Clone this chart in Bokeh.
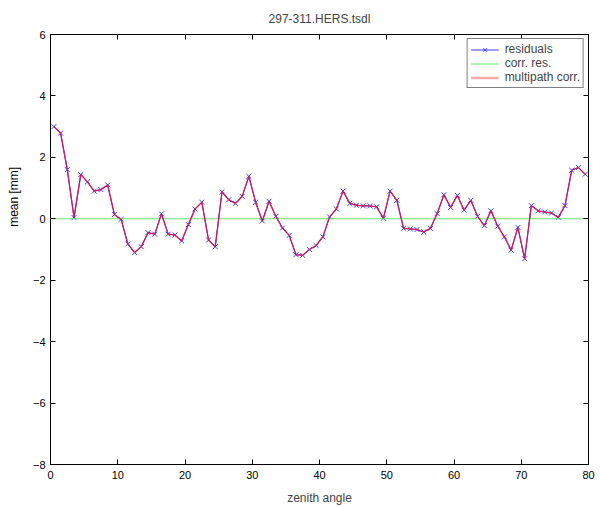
from bokeh.plotting import figure
from bokeh.models import LinearAxis, Range1d, FixedTicker, Legend, LegendItem, Title
from bokeh.embed import file_html
from bokeh.resources import INLINE

# ---- data ----
zenith_angle = [0.5, 1.5, 2.5, 3.5, 4.5, 5.5, 6.5, 7.5, 8.5, 9.5,
                10.5, 11.5, 12.5, 13.5, 14.5, 15.5, 16.5, 17.5, 18.5, 19.5,
                20.5, 21.5, 22.5, 23.5, 24.5, 25.5, 26.5, 27.5, 28.5, 29.5,
                30.5, 31.5, 32.5, 33.5, 34.5, 35.5, 36.5, 37.5, 38.5, 39.5,
                40.5, 41.5, 42.5, 43.5, 44.5, 45.5, 46.5, 47.5, 48.5, 49.5,
                50.5, 51.5, 52.5, 53.5, 54.5, 55.5, 56.5, 57.5, 58.5, 59.5,
                60.5, 61.5, 62.5, 63.5, 64.5, 65.5, 66.5, 67.5, 68.5, 69.5,
                70.5, 71.5, 72.5, 73.5, 74.5, 75.5, 76.5, 77.5, 78.5, 79.5]

residuals = [3.00, 2.79, 1.60, 0.04, 1.44, 1.20, 0.90, 0.95, 1.10, 0.14,
             -0.02, -0.82, -1.10, -0.91, -0.45, -0.50, 0.16, -0.50, -0.53, -0.72,
             -0.19, 0.32, 0.54, -0.69, -0.91, 0.88, 0.62, 0.50, 0.73, 1.38,
             0.54, -0.07, 0.57, 0.08, -0.30, -0.54, -1.17, -1.19, -1.00, -0.87,
             -0.59, 0.06, 0.32, 0.90, 0.50, 0.44, 0.42, 0.42, 0.39, 0.02,
             0.90, 0.60, -0.31, -0.33, -0.35, -0.43, -0.31, 0.17, 0.78, 0.37,
             0.76, 0.28, 0.60, 0.08, -0.22, 0.26, -0.24, -0.59, -1.02, -0.28,
             -1.30, 0.43, 0.26, 0.22, 0.19, 0.04, 0.43, 1.58, 1.67, 1.45]

corr_res = [0.0, 0.0, 0.0, 0.0, 0.0, 0.0, 0.0, 0.0, 0.0, 0.0,
            0.0, 0.0, 0.0, 0.0, 0.0, 0.0, 0.0, 0.0, 0.0, 0.0,
            0.0, 0.0, 0.0, 0.0, 0.0, 0.0, 0.0, 0.0, 0.0, 0.0,
            0.0, 0.0, 0.0, 0.0, 0.0, 0.0, 0.0, 0.0, 0.0, 0.0,
            0.0, 0.0, 0.0, 0.0, 0.0, 0.0, 0.0, 0.0, 0.0, 0.0,
            0.0, 0.0, 0.0, 0.0, 0.0, 0.0, 0.0, 0.0, 0.0, 0.0,
            0.0, 0.0, 0.0, 0.0, 0.0, 0.0, 0.0, 0.0, 0.0, 0.0,
            0.0, 0.0, 0.0, 0.0, 0.0, 0.0, 0.0, 0.0, 0.0, 0.0]

# multipath correction coincides with the residuals in the picture
multipath_corr = list(residuals)

x_ticks = [0, 10, 20, 30, 40, 50, 60, 70, 80]
y_ticks = [-8, -6, -4, -2, 0, 2, 4, 6]

title_text = "297-311.HERS.tsdl"
x_label = "zenith angle"
y_label = "mean  [mm]"

FONT = "Liberation Sans"
BLUE = "#3a3aff"
GREEN = "#66e066"
CRIMSON = "#d0185e"
PINK = "#ffaaaa"

p = figure(width=600, height=507,
           x_range=Range1d(0, 80), y_range=Range1d(-8, 6),
           output_backend="svg", toolbar_location=None,
           min_border_left=50, min_border_right=12,
           min_border_top=34, min_border_bottom=42,
           background_fill_color="white", border_fill_color="white")

p.title.text = title_text
p.title.align = "center"
p.title.vertical_align = "top"
p.title.text_font = FONT
p.title.text_font_size = "12px"
p.title.text_font_style = "normal"
p.title.standoff = 14

p.xgrid.visible = False
p.ygrid.visible = False
p.outline_line_color = "black"
p.outline_line_width = 1

def style_axis(ax):
    ax.major_tick_in = 5
    ax.major_tick_out = 0
    ax.minor_tick_in = 0
    ax.minor_tick_out = 0
    ax.axis_line_color = "black"
    ax.major_tick_line_color = "black"
    ax.major_label_text_font = FONT
    ax.major_label_text_font_size = "11px"
    ax.major_label_text_color = "black"
    ax.axis_label_text_font = FONT
    ax.axis_label_text_font_size = "12px"
    ax.axis_label_text_font_style = "normal"

p.xaxis.ticker = FixedTicker(ticks=x_ticks)
p.yaxis.ticker = FixedTicker(ticks=y_ticks)
style_axis(p.xaxis[0])
style_axis(p.yaxis[0])
p.xaxis.axis_label = x_label
p.xaxis.major_label_standoff = 6
p.xaxis.axis_label_standoff = 9
p.yaxis.major_label_standoff = 5

# mirrored tick marks on the top and right (no labels)
top_ax = LinearAxis(ticker=FixedTicker(ticks=x_ticks), major_label_standoff=0,
                    major_label_overrides={t: "" for t in x_ticks})
right_ax = LinearAxis(ticker=FixedTicker(ticks=y_ticks), major_label_standoff=0,
                      major_label_overrides={t: "" for t in y_ticks})
style_axis(top_ax)
style_axis(right_ax)
p.add_layout(top_ax, "above")
p.add_layout(right_ax, "right")

# y label, placed like the original (above the axis centre)
ylab = Title(text=y_label, align="right", offset=129, vertical_align="top",
             standoff=13, text_font=FONT, text_font_size="12px",
             text_font_style="normal", text_color="black")
p.add_layout(ylab, "left")

r_res_line = p.line(zenith_angle, residuals, line_color=BLUE, line_width=1)
r_res_mark = p.scatter(zenith_angle, residuals, marker="x", size=7,
                       line_color=BLUE, line_width=1)
r_corr = p.line(zenith_angle, corr_res, line_color=GREEN, line_width=1)
r_mp = p.line(zenith_angle, multipath_corr, line_color=CRIMSON, line_width=1.3)
# legend key for the multipath correction (pale pink as in the original key)
r_mp_key = p.line(x=[float("nan")], y=[float("nan")], line_color=PINK, line_width=2.5)

legend = Legend(items=[
    LegendItem(label="residuals", renderers=[r_res_line, r_res_mark]),
    LegendItem(label="corr. res.", renderers=[r_corr]),
    LegendItem(label="multipath corr.", renderers=[r_mp_key]),
], location="top_right")
legend.border_line_color = "black"
legend.border_line_width = 1
legend.background_fill_color = "white"
legend.background_fill_alpha = 1.0
legend.margin = 4
legend.padding = 3
legend.spacing = 0
legend.label_text_font = FONT
legend.label_text_font_size = "12px"
legend.label_standoff = 6
legend.glyph_width = 28
legend.glyph_height = 13
legend.label_height = 13
p.add_layout(legend)

open("out.html", "w").write(file_html(p, INLINE))
